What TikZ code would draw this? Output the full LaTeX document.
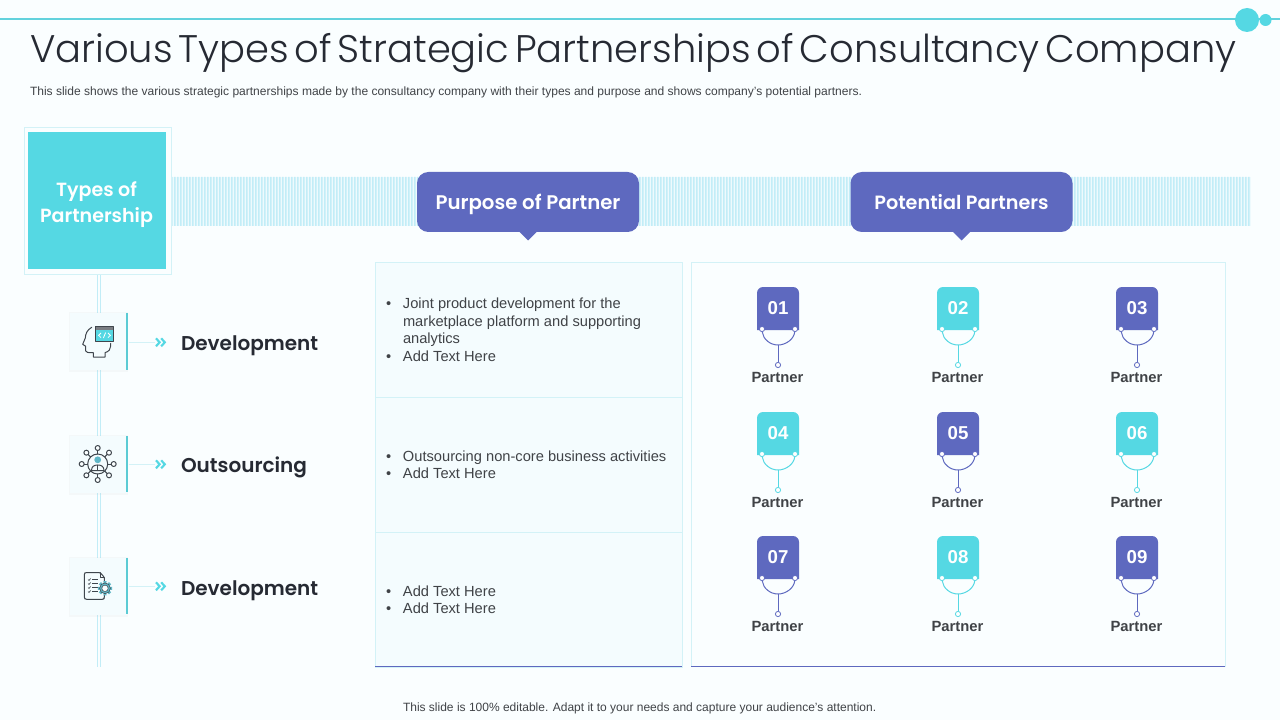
\documentclass[tikz,border=0pt]{standalone}
\usepackage{fontspec}
\setmainfont{Liberation Sans}
\newfontfamily\geolight{Poppins}[UprightFont=* Light,WordSpace=0.55]
\newfontfamily\geobold{Poppins}[UprightFont=* SemiBold]
\usetikzlibrary{shadows,calc}
\definecolor{bgc}{HTML}{FAFEFF}
\definecolor{indigo}{HTML}{5E69BF}
\definecolor{teal}{HTML}{55D8E3}
\definecolor{ruleblue}{HTML}{62D2DD}
\definecolor{pale}{HTML}{D3F2F7}
\definecolor{bandblue}{HTML}{C2EDF7}
\definecolor{bandbase}{HTML}{EEFAFD}
\definecolor{cellbg}{HTML}{F4FCFE}
\definecolor{ink}{HTML}{262A33}
\definecolor{bodyink}{HTML}{404347}
\definecolor{icon}{HTML}{3F464D}
\definecolor{gear}{HTML}{5FB7C7}
\tikzset{
  x=0.75pt,y=-0.75pt,
  box/.style={shape=rectangle,inner sep=0pt,outer sep=0pt},
  celltext/.style={box,anchor=north west,align=left,text=bodyink,font=\fontsize{11}{13.15}\selectfont},
  headlabel/.style={box,text=white,font=\geobold\fontsize{14.3}{19.5}\selectfont},
  rowlabel/.style={box,anchor=base west,text=ink,font=\geobold\fontsize{15}{18}\selectfont},
  pill/.style={box,fill=indigo,rounded corners=8.5pt,minimum width=166.5pt,minimum height=45pt,text=white,text height=13.5pt,text depth=2.2pt},
  iconbox/.style={box,fill=cellbg,minimum width=42.75pt,minimum height=42.75pt,general shadow={fill=black!30,opacity=.07,shadow xshift=0pt,shadow yshift=-.6pt,shadow scale=1.05}},
  cell/.style={box,fill=cellbg,draw=pale,line width=.7pt,minimum width=230.25pt},
  branch/.style={draw=pale,line width=.8pt},
  chev/.style={draw=teal,line width=1.6pt,line join=miter},
  ico/.style={draw=icon,line width=.75pt,line join=round,line cap=round},
  dot/.style={shape=circle,inner sep=0pt,minimum size=3.9pt,fill=white,draw=#1,line width=.6pt},
}
\newcommand{\bul}{\makebox[12.75pt][l]{•}}
\newcommand{\partnercard}[4]{%
  \begin{scope}[shift={(#1,#2)}]
    \fill[#4] (-21,43) [rounded corners=4.5pt] -- (-21,0) -- (21,0) [sharp corners] -- (21,43) -- cycle;
    \node[box,text=white,font=\bfseries\fontsize{14}{16}\selectfont] (num#3) at (0,21) {#3};
    \coordinate (hub#3) at (0,58);
    \node[dot=#4] (cl#3) at (-16,42) {};
    \node[dot=#4] (cr#3) at (17,42) {};
    \node[dot=#4] (foot#3) at (0,78) {};
    \draw[#4,line width=.75pt] (cl#3) .. controls (-15,52) and (-8,58) .. (hub#3) .. controls (8,58) and (16,52) .. (cr#3);
    \draw[#4,line width=.75pt] (hub#3) -- (foot#3);
    \node[box,anchor=base,text=bodyink,font=\bfseries\fontsize{11.1}{13}\selectfont] (lab#3) at (-0.5,95.5) {Partner};
  \end{scope}}
\newcommand{\chevrons}[1]{%
  \draw[chev] (156,#1-4) -- (159.6,#1) -- (156,#1+4);
  \draw[chev] (161.2,#1-4) -- (164.8,#1) -- (161.2,#1+4);}
\begin{document}
\begin{tikzpicture}
\useasboundingbox (0,0) rectangle (1280,720);
\fill[bgc] (0,0) rectangle (1280,720);
% top rule
\fill[ruleblue] (0,18.5) rectangle (1280,20.5);
\fill[teal] (1247,20) circle[radius=12];
\fill[teal] (1265.5,20) circle[radius=6];
% title
\node[box,anchor=base west,text=ink,font=\geolight\fontsize{28.85}{36}\selectfont] (title) at (30,63) {Various Types of Strategic Partnerships of Consultancy Company};
\node[box,anchor=base west,text=bodyink,font=\fontsize{9.02}{11}\selectfont] (subtitle) at (30,95.5) {This slide shows the various strategic partnerships made by the consultancy company with their types and purpose and shows company's potential partners.};
% band
\fill[bandbase] (171,177) rectangle (1251,226);
\fill[bandblue] foreach \i in {0,...,359} { ({171+3*\i},177) rectangle ({172.6+3*\i},226) };
% vertical trunk
\fill[bandblue] (97.2,274) rectangle (98.2,667);
\fill[bandblue] (99.8,274) rectangle (100.8,667);
\node[box,draw=pale,fill=bgc,line width=.6pt,minimum width=110.25pt,minimum height=110.25pt] (outer) at (97.5,200.5) {};
\node[box,fill=teal,minimum width=103.5pt,minimum height=102.75pt] (types) at (97,200.5) {};
\node[headlabel,align=center] (typestext) at (96.5,204.5) {Types of\\Partnership};
\node[iconbox] (ib1) at (98.5,341.5) {};
\node[iconbox] (ib2) at (98.5,464) {};
\node[iconbox] (ib3) at (98.5,586) {};
% teal bars
\fill[teal!85!gray] (126,313) rectangle (128,370);
\fill[teal!85!gray] (126,436) rectangle (128,492);
\fill[teal!85!gray] (126,558) rectangle (128,614);
% branches
\coordinate (ch1) at (155,342.3);
\coordinate (ch2) at (155,464.3);
\coordinate (ch3) at (155,586.3);
\draw[branch] (ib1.east) ++(1.5,0.8) -- (ch1);
\draw[branch] (ib2.east) ++(1.5,0.3) -- (ch2);
\draw[branch] (ib3.east) ++(1.5,0.3) -- (ch3);
\chevrons{342.3}
\chevrons{464.3}
\chevrons{586.3}
\node[rowlabel] (r1) at (181,350.5) {Development};
\node[rowlabel] (r2) at (181,472.5) {Outsourcing};
\node[rowlabel] (r3) at (181,595.5) {Development};
% head icon
\draw[ico] (91.7,327.3) .. controls (87,330) and (85.5,334) .. (85.3,338) -- (82.7,344.3) -- (85.7,346.3) -- (85.7,351) .. controls (86,352.5) and (88,352.7) .. (93.3,352.7) -- (93.3,357) -- (105,357) -- (105,352.7) .. controls (109,351.5) and (110.7,349) .. (110.7,346) -- (110.7,343.3);
\fill[teal] (95.7,326.3) rectangle (113.3,341.7);
\fill[icon!70] (95.7,326.3) rectangle (113.3,329.6);
\draw[ico] (95.7,326.3) rectangle (113.3,341.7);
\draw[white,line width=.6pt] (101,333) -- (98.6,335.3) -- (101,337.6) (108,333) -- (110.4,335.3) -- (108,337.6) (105.6,332.6) -- (103.4,338);
% network icon
\foreach \a in {0,45,...,315}{
  \draw[ico] ($(97.7,464)+(\a:10)$) -- ($(97.7,464)+(\a:13.6)$);
  \draw[ico,fill=bgc] ($(97.7,464)+(\a:16)$) circle[radius=2.5];
}
\draw[ico] (97.7,464) circle[radius=10];
\fill[gear] (97.7,459.8) circle[radius=3.4];
\draw[ico] (91.5,470.5) .. controls (91.5,466.5) and (94,465) .. (97.7,465) .. controls (101.4,465) and (104,466.5) .. (104,470.5) -- cycle;
\draw[ico] (97.7,465) -- (97.7,470.5);
% document icon
\draw[ico,rounded corners=.8pt] (100,572.5) -- (85.5,572.5) -- (84.3,573.5) -- (84.3,598.2) -- (85.5,599.3) -- (103.5,599.3) -- (104.3,598.2) -- (104.3,577.2) -- cycle;
\draw[ico] (100,572.5) -- (100,577.2) -- (104.3,577.2);
\foreach \yy in {580.5,584.5,588.5,592.5}{
  \draw[icon,line width=.5pt] (88,\yy-1) -- (89,\yy) -- (90.6,\yy-2);
  \draw[icon,line width=.5pt] (92,\yy-.8) -- (98,\yy-.8);
}
\foreach \a in {0,45,...,315}{
  \fill[gear] ($(105,588.3)+(\a-16:5.2)$) -- ($(105,588.3)+(\a-12:7.3)$) -- ($(105,588.3)+(\a+12:7.3)$) -- ($(105,588.3)+(\a+16:5.2)$) -- cycle;
}
\draw[icon,line width=.4pt,fill=gear] (105,588.3) circle[radius=5.4];
\fill[bgc] (105,588.3) circle[radius=3.2];
\draw[icon,line width=.4pt] (105,588.3) circle[radius=3.2];
% table
\node[cell,minimum height=101.25pt] (c1) at (528.5,329.5) {};
\node[cell,minimum height=101.25pt] (c2) at (528.5,464.5) {};
\node[cell,minimum height=101.25pt] (c3) at (528.5,599.5) {};
\coordinate (c3l) at (375,666.5);
\coordinate (c3r) at (682,666.5);
\draw[indigo,line width=1.1pt] (c3l) -- (c3r);
\node[celltext] (t1) at (386,298) {\bul Joint product development for the\\
\hspace*{12.75pt}marketplace platform and supporting\\
\hspace*{12.75pt}analytics\\
\bul Add Text Here};
\node[celltext] (t2) at (386,450.5) {\bul Outsourcing non-core business activities\\
\bul Add Text Here};
\node[celltext] (t3) at (386,585.5) {\bul Add Text Here\\
\bul Add Text Here};
% partner panel
\node[box,draw=pale,fill=bgc,line width=.7pt,minimum width=400.5pt,minimum height=303pt] (panel) at (958,464) {};
\coordinate (panell) at (691,666);
\coordinate (panelr) at (1225,666);
\draw[indigo,line width=.7pt] (panell) -- (panelr);
% pills
\node[pill,font=\geobold\fontsize{14.8}{18}\selectfont] (purpose) at (528,202) {Purpose of Partner};
\node[pill,font=\geobold\fontsize{14.4}{18}\selectfont] (potential) at (961.5,202) {Potential Partners};
\fill[indigo] (purpose.south) ++(-8.5,0) -- ++(8.5,8.5) -- ++(8.5,-8.5) -- cycle;
\fill[indigo] (potential.south) ++(-8.5,0) -- ++(8.5,8.5) -- ++(8.5,-8.5) -- cycle;
% cards
\partnercard{778}{287}{01}{indigo}
\partnercard{958}{287}{02}{teal}
\partnercard{1137}{287}{03}{indigo}
\partnercard{778}{412}{04}{teal}
\partnercard{958}{412}{05}{indigo}
\partnercard{1137}{412}{06}{teal}
\partnercard{778}{536}{07}{indigo}
\partnercard{958}{536}{08}{teal}
\partnercard{1137}{536}{09}{indigo}
% footer
\node[box,anchor=base west,text=bodyink,font=\fontsize{9}{11}\selectfont] (footer) at (403,711.5) {This slide is 100\% editable. Adapt it to your needs and capture your audience's attention.};
\end{tikzpicture}
\end{document}
